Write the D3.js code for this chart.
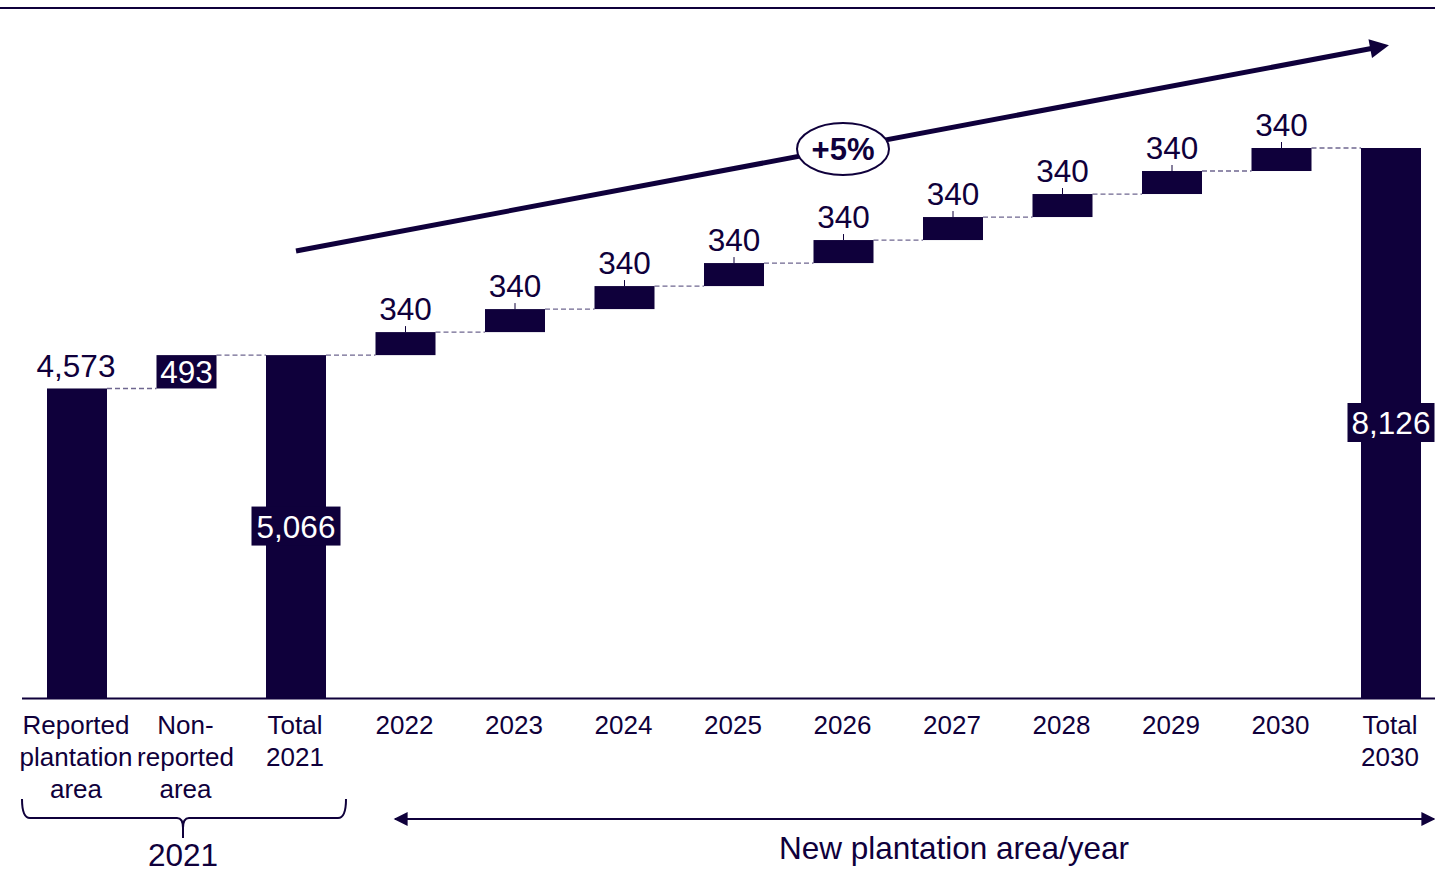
<!DOCTYPE html>
<html>
<head>
<meta charset="utf-8">
<script src="https://cdn.jsdelivr.net/npm/d3@7"></script>
<style>
  html, body { margin: 0; padding: 0; background: #fff; }
  svg { display: block; font-family: "Liberation Sans", Arial, sans-serif; }
</style>
</head>
<body>
<svg id="chart" width="1435" height="872"></svg>
<script>
// Plantation area waterfall, 2021 baseline to 2030
const categories = ["Reported\nplantation\narea", "Non-\nreported\narea", "Total\n2021",
  "2022", "2023", "2024", "2025", "2026", "2027", "2028", "2029", "2030", "Total\n2030"];
const values = [4573, 493, 5066, 340, 340, 340, 340, 340, 340, 340, 340, 340, 8126];
const kinds = ["total", "step", "total", "step", "step", "step", "step", "step", "step", "step", "step", "step", "total"];
const valueLabels = ["4,573", "493", "5,066", "340", "340", "340", "340", "340", "340", "340", "340", "340", "8,126"];
const growthLabel = "+5%";
const groupLabel = "2021";
const rangeLabel = "New plantation area/year";

const NAVY = "#0f003b";
const DASH = "#6f6790";
const VALUE_FS = 31.5;

const svg = d3.select("#chart");

// running start/end of each bar
let run = 0;
const bars = categories.map((c, i) => {
  let y0, y1;
  if (kinds[i] === "total") { y0 = 0; y1 = values[i]; run = values[i]; }
  else { y0 = run; y1 = run + values[i]; run = y1; }
  return { cat: c, i, y0, y1, label: valueLabels[i] };
});

const x = d3.scalePoint().domain(categories).range([77, 1391]);
const y = d3.scaleLinear().domain([0, 8126]).range([698, 148]);
const barW = 60;

// frame rule across the top
svg.append("line").attr("x1", 0).attr("x2", 1435).attr("y1", 8).attr("y2", 8)
  .attr("stroke", NAVY).attr("stroke-width", 2);

// dashed connectors between consecutive bar tops
bars.slice(0, -1).forEach((b, i) => {
  const nb = bars[i + 1];
  svg.append("line")
    .attr("x1", x(b.cat) + barW / 2).attr("x2", x(nb.cat) - barW / 2)
    .attr("y1", y(b.y1)).attr("y2", y(b.y1))
    .attr("stroke", DASH).attr("stroke-width", 1.3).attr("stroke-dasharray", "5,3");
});

// bars
svg.append("g").selectAll("rect").data(bars).join("rect")
  .attr("x", d => x(d.cat) - barW / 2)
  .attr("width", barW)
  .attr("y", d => y(d.y1))
  .attr("height", d => y(d.y0) - y(d.y1))
  .attr("fill", NAVY);

// axis baseline
svg.append("line").attr("x1", 22).attr("x2", 1435).attr("y1", 698.5).attr("y2", 698.5)
  .attr("stroke", NAVY).attr("stroke-width", 2);

// category labels
const catG = svg.append("g").attr("font-size", 26).attr("fill", NAVY).attr("text-anchor", "middle");
bars.forEach(b => {
  const t = catG.append("text").attr("x", x(b.cat)).attr("y", 734);
  b.cat.split("\n").forEach((ln, k) => {
    t.append("tspan").attr("x", x(b.cat) - 1).attr("dy", k === 0 ? 0 : 32).text(ln);
  });
});

// value labels
bars.forEach(b => {
  const cx = x(b.cat);
  if (b.i === 0) {
    svg.append("text").attr("x", cx - 1).attr("y", y(b.y1) - 11)
      .attr("text-anchor", "middle").attr("font-size", VALUE_FS).attr("fill", NAVY).text(b.label);
  } else if (b.i === 1) {
    svg.append("text").attr("x", cx).attr("y", (y(b.y0) + y(b.y1)) / 2 + 11)
      .attr("text-anchor", "middle").attr("font-size", VALUE_FS).attr("fill", "#fff").text(b.label);
  } else if (kinds[b.i] === "total") {
    const mid = (y(b.y0) + y(b.y1)) / 2;
    const w = b.i === 2 ? 89 : 87;
    const boxY = mid - 20;
    svg.append("rect").attr("x", cx - w / 2).attr("y", boxY).attr("width", w).attr("height", 39)
      .attr("fill", NAVY);
    svg.append("text").attr("x", cx).attr("y", boxY + 31)
      .attr("text-anchor", "middle").attr("font-size", VALUE_FS).attr("fill", "#fff").text(b.label);
  } else {
    svg.append("line").attr("x1", cx).attr("x2", cx)
      .attr("y1", y(b.y1)).attr("y2", y(b.y1) - 6)
      .attr("stroke", NAVY).attr("stroke-width", 1);
    svg.append("text").attr("x", cx).attr("y", y(b.y1) - 12)
      .attr("text-anchor", "middle").attr("font-size", VALUE_FS).attr("fill", NAVY).text(b.label);
  }
});

// growth trend arrow
const defs = svg.append("defs");
defs.append("marker").attr("id", "trendHead").attr("viewBox", "0 0 10 10")
  .attr("refX", 2).attr("refY", 5).attr("markerWidth", 4.4).attr("markerHeight", 3.8)
  .attr("orient", "auto").attr("markerUnits", "strokeWidth")
  .append("path").attr("d", "M0,0 L10,5 L0,10 Z").attr("fill", NAVY);
svg.append("line").attr("x1", 296).attr("y1", 251).attr("x2", 1374).attr("y2", 48)
  .attr("stroke", NAVY).attr("stroke-width", 5).attr("marker-end", "url(#trendHead)");

svg.append("ellipse").attr("cx", 843).attr("cy", 149).attr("rx", 46).attr("ry", 26)
  .attr("fill", "#fff").attr("stroke", NAVY).attr("stroke-width", 2);
svg.append("text").attr("x", 843).attr("y", 160).attr("text-anchor", "middle")
  .attr("font-size", 31).attr("font-weight", "bold").attr("fill", NAVY).text(growthLabel);

// brace grouping the 2021 columns
const braceL = 22, braceR = 346, braceTop = 799, braceMid = 818, braceTip = 838;
const bx = 183;
svg.append("path")
  .attr("d", `M${braceL},${braceTop} Q${braceL},${braceMid} ${braceL + 8},${braceMid}
              L${bx - 6},${braceMid} Q${bx},${braceMid} ${bx},${braceTip - 10}
              L${bx},${braceTip} M${bx},${braceTip - 10} Q${bx},${braceMid} ${bx + 6},${braceMid}
              L${braceR - 8},${braceMid} Q${braceR},${braceMid} ${braceR},${braceTop}`)
  .attr("fill", "none").attr("stroke", NAVY).attr("stroke-width", 2);
svg.append("text").attr("x", bx).attr("y", 866).attr("text-anchor", "middle")
  .attr("font-size", VALUE_FS).attr("fill", NAVY).text(groupLabel);

// range arrow for the yearly additions
defs.append("marker").attr("id", "rangeHead").attr("viewBox", "0 0 10 10")
  .attr("refX", 9).attr("refY", 5).attr("markerWidth", 8).attr("markerHeight", 7)
  .attr("orient", "auto-start-reverse").attr("markerUnits", "strokeWidth")
  .append("path").attr("d", "M0,0 L10,5 L0,10 Z").attr("fill", NAVY);
svg.append("line").attr("x1", 395).attr("x2", 1434).attr("y1", 819).attr("y2", 819)
  .attr("stroke", NAVY).attr("stroke-width", 2)
  .attr("marker-start", "url(#rangeHead)").attr("marker-end", "url(#rangeHead)");
svg.append("text").attr("x", 954).attr("y", 859).attr("text-anchor", "middle")
  .attr("font-size", 31.5).attr("fill", NAVY).text(rangeLabel);
</script>
</body>
</html>
